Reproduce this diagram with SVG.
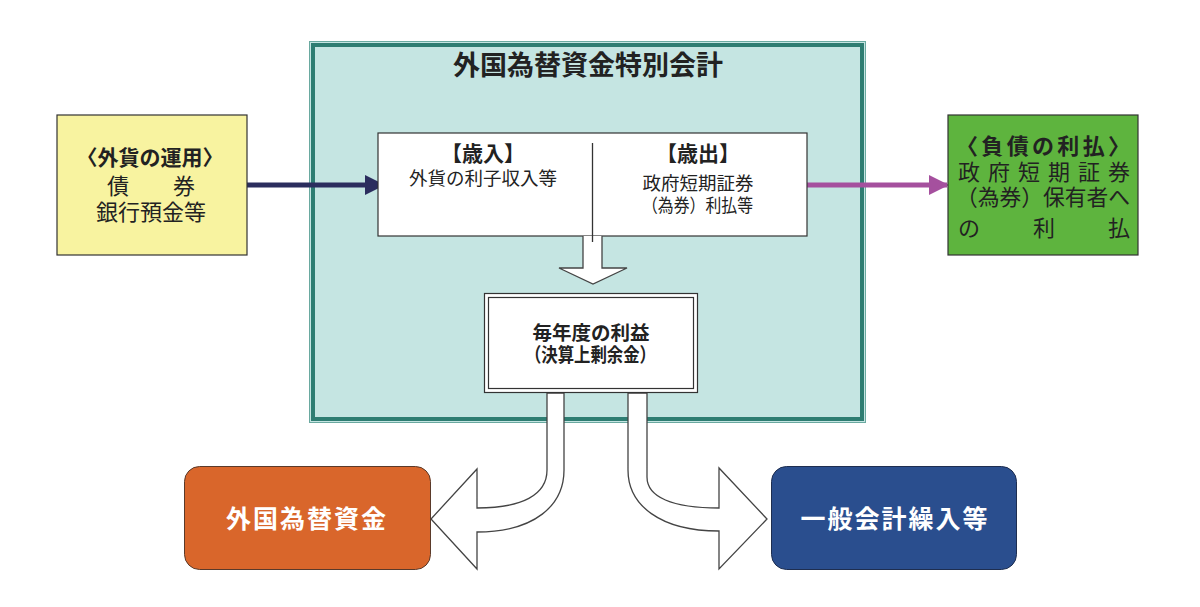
<svg xmlns="http://www.w3.org/2000/svg" width="1200" height="607" viewBox="0 0 1200 607">
<style>
text{font-family:"Noto Sans CJK JP","Noto Sans CJK SC",sans-serif;fill:#222;}
.b{font-weight:bold;}
.c{text-anchor:middle;}
.w{fill:#fff;font-weight:bold;}
.box{stroke:#333;stroke-width:1.2;}
.blk{fill:#fff;stroke:#444;stroke-width:1.3;}
</style>
<defs>
<marker id="ahN" viewBox="0 0 10 10" refX="9" refY="5" markerWidth="4" markerHeight="4.4" orient="auto"><path d="M0,0 L10,5 L0,10 Z" fill="#2b2d5e"/></marker>
<marker id="ahP" viewBox="0 0 10 10" refX="9" refY="5" markerWidth="4" markerHeight="4.4" orient="auto"><path d="M0,0 L10,5 L0,10 Z" fill="#a5509e"/></marker>
</defs>
<rect width="1200" height="607" fill="#fff"/>
<g id="account">
<rect x="309.5" y="41.5" width="556" height="381" fill="#c5e5e2" stroke="#6aa9a0" stroke-width="1"/>
<rect x="313" y="45" width="549" height="374" fill="none" stroke="#2e7d72" stroke-width="4"/>
<text class="b c" x="588" y="75" font-size="27">外国為替資金特別会計</text>
</g>
<g id="connectors">
<line x1="247" y1="185" x2="383" y2="185" stroke="#2b2d5e" stroke-width="5" marker-end="url(#ahN)"/>
<line x1="807" y1="185" x2="947" y2="185" stroke="#a5509e" stroke-width="5" marker-end="url(#ahP)"/>
</g>
<g id="yellow">
<rect class="box" x="57" y="115" width="190" height="140" fill="#f8f3a0"/>
<text class="b c" x="150" y="165" font-size="21">〈外貨の運用〉</text>
<text class="c" x="151" y="194" font-size="22">債　　券</text>
<text class="c" x="151" y="220" font-size="22">銀行預金等</text>
</g>
<g id="flow">
<rect class="box" x="378" y="133" width="429" height="103" fill="#fff"/>
<path class="blk" d="M583,236 L583,268 L559,268 L593,284 L627,268 L602,268 L602,236"/>
<line x1="592.5" y1="143" x2="592.5" y2="242" stroke="#333" stroke-width="1.3"/>
<text class="b c" x="483" y="161" font-size="21">【歳入】</text>
<text class="c" x="483" y="185" font-size="18.5">外貨の利子収入等</text>
<text class="b c" x="698" y="161" font-size="21">【歳出】</text>
<text class="c" x="698" y="190" font-size="18.5">政府短期証券</text>
<text x="642" y="212" font-size="18.5" textLength="111" lengthAdjust="spacingAndGlyphs">（為券）利払等</text>
</g>
<g id="green">
<rect class="box" x="948" y="115" width="190" height="140" fill="#5eb43e"/>
<text class="b" x="956" y="154" font-size="22" textLength="174" lengthAdjust="spacing">〈負債の利払〉</text>
<text x="958" y="180" font-size="22" textLength="172" lengthAdjust="spacing">政府短期証券</text>
<text x="956" y="205" font-size="22" textLength="174" lengthAdjust="spacingAndGlyphs">（為券）保有者へ</text>
<text x="958" y="236" font-size="22">の</text>
<text class="c" x="1044" y="236" font-size="22">利</text>
<text x="1108" y="236" font-size="22">払</text>
</g>
<g id="arrows">
<path class="blk" d="M547,393 L547,470 C547,495 522,508 477,508 L477,469 L431,519 L477,569 L477,532 C535,532 564,505 564,470 L564,393 Z"/>
<path class="blk" d="M628,393 L628,470 C628,505 660,531 719,531 L719,569 L767,519 L719,468 L719,508 C672,508 647,497 647,477 L647,393 Z"/>
</g>
<g id="profit">
<rect x="484.5" y="293.5" width="213" height="99" fill="#fff" stroke="#333" stroke-width="1.2"/>
<rect x="488.5" y="297.5" width="205" height="91" fill="#fff" stroke="#333" stroke-width="1.2"/>
<text class="b c" x="591" y="340" font-size="19.5">毎年度の利益</text>
<text class="b" x="525" y="362" font-size="19.5" textLength="131" lengthAdjust="spacingAndGlyphs">（決算上剰余金）</text>
</g>
<g id="reserve">
<rect x="184.5" y="466.5" width="246" height="103" rx="15" fill="#d9662b" stroke="#5a3a2a" stroke-width="1"/>
<text class="w c" x="307" y="528" font-size="25" letter-spacing="2">外国為替資金</text>
</g>
<g id="general">
<rect x="771.5" y="466.5" width="245" height="103" rx="15" fill="#2a4e8e" stroke="#1e2e50" stroke-width="1"/>
<text class="w c" x="895" y="528" font-size="25" letter-spacing="2">一般会計繰入等</text>
</g>
</svg>
